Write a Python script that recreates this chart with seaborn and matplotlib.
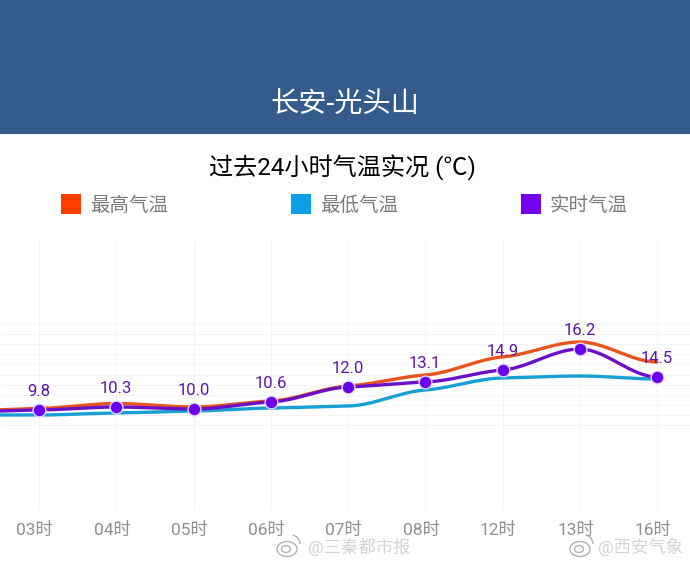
import numpy as np
import pandas as pd
import matplotlib.pyplot as plt
import seaborn as sns
from matplotlib.patches import Rectangle, Ellipse, Arc
from matplotlib.transforms import ScaledTranslation, IdentityTransform

# 02时 sits off the left edge, only the stub of line is visible
hours = ['02时', '03时', '04时', '05时', '06时', '07时', '08时', '12时', '13时', '16时']
high = [9.7, 9.95, 10.45, 10.1, 10.7, 12.2, 13.3, 15.1, 16.6, 14.6]
low = [9.3, 9.3, 9.5, 9.7, 10.0, 10.2, 11.8, 13.0, 13.2, 12.9]
real = [9.6, 9.8, 10.1, 9.9, 10.6, 12.1, 12.6, 13.8, 15.9, 13.1]
real_labels = ['', '9.8', '10.3', '10.0', '10.6', '12.0', '13.1', '14.9', '16.2', '14.5']
legend_names = ['最高气温', '最低气温', '实时气温']
colors = ['#ff3d00', '#0d9fe3', '#7300f0']
line_colors = ['#e8541c', '#18a0d4', '#6a10c8']


# cubic with small tangents, gives the soft S shape between points
def smooth(y):
    y = np.array(y, dtype=float)
    d = np.diff(y)
    m = np.zeros(len(y))
    for i in range(1, len(y) - 1):
        if d[i - 1] * d[i] > 0:
            m[i] = 0.8 * d[i - 1] * d[i] / (d[i - 1] + d[i])
    m[0] = d[0] * 0.4
    xs = np.linspace(0, len(y) - 1, 500)
    i = np.minimum(xs.astype(int), len(y) - 2)
    t = xs - i
    ys = ((2 * t**3 - 3 * t**2 + 1) * y[i] + (t**3 - 2 * t**2 + t) * m[i]
          + (-2 * t**3 + 3 * t**2) * y[i + 1] + (t**3 - t**2) * m[i + 1])
    return xs - 1, ys


sns.set_theme(style='white')
plt.rcParams['font.family'] = ['Roboto', 'Noto Sans CJK SC', 'DejaVu Sans']

W, H = 690, 564
fig = plt.figure(figsize=(W / 100, H / 100), dpi=100)
ax = fig.add_axes([0, (H - 510) / H, 1, 270 / H])

# page pieces in pixel coords
fig.patches.append(Rectangle((0, 1 - 134 / H), 1, 134 / H, transform=fig.transFigure, color='#355a8c', lw=0))
fig.text(344.5 / W, 1 - 104 / H, '长安-光头山', color='white', fontsize=20.3, ha='center', va='center')
fig.text(342 / W, 1 - 168 / H, '过去24小时气温实况 (℃)', color='black', fontsize=17.4, ha='center', va='center')
for name, c, x in zip(legend_names, colors, [61, 291, 521]):
    fig.patches.append(Rectangle((x / W, 1 - 214 / H), 20 / W, 20 / H, transform=fig.transFigure, color=c, lw=0))
    fig.text((x + 29) / W, 1 - 206 / H, name, color='#7a7a7a', fontsize=14, ha='left', va='center')

for vals, c in zip([high, low, real], line_colors):
    xs, ys = smooth(vals)
    sns.lineplot(x=xs, y=ys, ax=ax, color=c, lw=2.4, errorbar=None, estimator=None, sort=False, zorder=3)

df = pd.DataFrame({'pos': np.arange(-1, len(real) - 1), 'real': real, 'label': real_labels})
df = df[df['label'] != '']
sns.scatterplot(data=df, x='pos', y='real', ax=ax, color='#6a00f0', s=85, edgecolor='#e6d8fb',
                linewidth=1, zorder=4, clip_on=False)
for _, row in df.iterrows():
    ax.annotate(row['label'], (row['pos'], row['real']), xytext=(0, 13.5), textcoords='offset points',
                ha='center', va='center', fontsize=12, color='#5a14a8', zorder=5)

ax.set_xlim(-39 / 77.25, (690 - 39) / 77.25)
ax.set_ylim(-0.2, 26.8)
ax.set_xticks(range(len(hours) - 1))
ax.set_xticklabels(hours[1:], color='#8f8f8f', fontsize=12.5)
ax.tick_params(axis='x', length=0, pad=9)
for lab in ax.get_xticklabels():
    lab.set_transform(lab.get_transform() + ScaledTranslation(-3 / 72, 0, fig.dpi_scale_trans))
# horizontal grid only shows in the middle band
ax.set_yticks(np.arange(8.3, 18.6, 1.01))
ax.set_yticklabels([])
ax.tick_params(axis='y', length=0)
ax.grid(True, color='#f4f4f6', lw=0.7)
ax.set_axisbelow(True)
ax.set_xlabel('')
ax.set_ylabel('')
sns.despine(ax=ax, left=True, bottom=True, top=True, right=True)

# weibo watermarks, the logo is only approximated
for x, txt in [(308, '@三秦都市报'), (598, '@西安气象')]:
    fig.text(x / W, 1 - 547 / H, txt, color='#d4d4d4', fontsize=12.5, ha='left', va='center')
tr = IdentityTransform()
for cx in [288, 581]:
    fig.patches.append(Ellipse((cx - 1, H - 549), 20, 15, transform=tr, fill=False, ec='#b0b0b0', lw=1))
    fig.patches.append(Ellipse((cx - 2, H - 549), 9, 7, transform=tr, fill=False, ec='#b0b0b0', lw=1))
    fig.patches.append(Arc((cx + 3, H - 544), 18, 18, theta1=0, theta2=80, transform=tr, ec='#b0b0b0', lw=1))

fig.savefig('out.png', dpi=100)
